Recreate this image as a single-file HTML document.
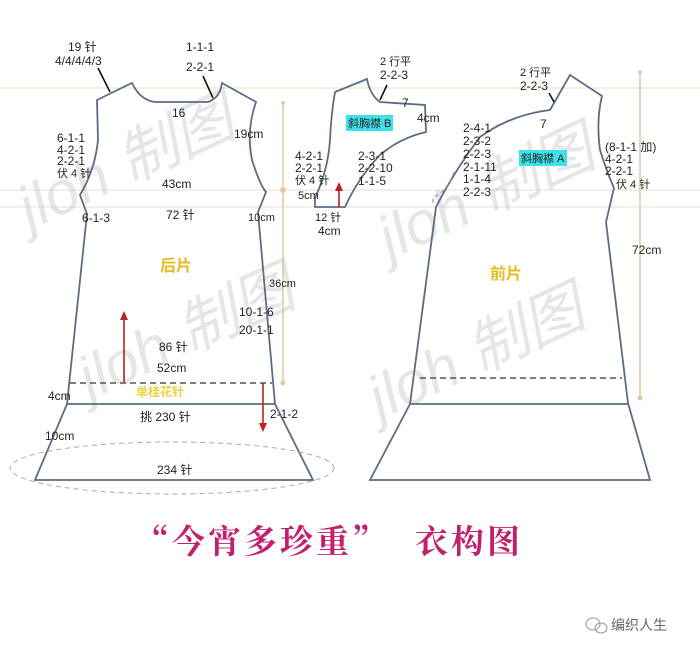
<!DOCTYPE html>
<html><head><meta charset="utf-8"><style>
html,body{margin:0;padding:0;background:#fff;}
svg{display:block;}
text{font-family:"Liberation Sans","Noto Sans CJK SC",sans-serif;font-size:12px;fill:#222;}
</style></head><body>
<svg width="700" height="655" viewBox="0 0 700 655" xmlns="http://www.w3.org/2000/svg">
<g stroke="#eadfc8" stroke-width="1">
<line x1="0" y1="88" x2="700" y2="88"/>
<line x1="0" y1="190" x2="700" y2="190"/>
<line x1="0" y1="207" x2="700" y2="207"/>
</g>
<g stroke="#e2c9a0" stroke-width="1.5">
<line x1="283" y1="103" x2="283" y2="383"/>
<line x1="640" y1="72" x2="640" y2="398"/>
</g>
<g fill="#e2c9a0"><circle cx="283" cy="103" r="2"/><circle cx="283" cy="190" r="3"/><circle cx="283" cy="383" r="2.5"/><circle cx="640" cy="72" r="2"/><circle cx="640" cy="398" r="2.5"/></g>

<g opacity="0.35" style="font-family:'Liberation Serif','Noto Serif CJK SC',serif;font-style:italic">
<text x="30" y="230" transform="rotate(-25 30 230)" style="font-size:60px;fill:#b8b8b8">jloh 制图</text>
<text x="90" y="400" transform="rotate(-25 90 400)" style="font-size:60px;fill:#b8b8b8">jloh 制图</text>
<text x="390" y="260" transform="rotate(-25 390 260)" style="font-size:60px;fill:#b8b8b8">jloh 制图</text>
<text x="380" y="420" transform="rotate(-25 380 420)" style="font-size:60px;fill:#b8b8b8">jloh 制图</text>
</g>

<g fill="none" stroke="#5b6c85" stroke-width="1.8">
<path d="M97,100 L132,83 Q140,100 155,102 L208,102 Q220,98 222,83 L256,102 Q246,130 252,160 Q260,185 266,192 L258,212 L275,404 L313,480 L35,480 L67,404 L87,214 L80,195 Q95,170 98,140 Z"/>
<line x1="67" y1="404" x2="275" y2="404"/>
</g>
<line x1="70" y1="383" x2="272" y2="383" stroke="#555" stroke-width="1.5" stroke-dasharray="6,4"/>
<ellipse cx="172" cy="468" rx="162" ry="26" fill="none" stroke="#aaa" stroke-width="1" stroke-dasharray="5,4"/>

<g fill="none" stroke="#5b6c85" stroke-width="1.8">
<path d="M570,75 L602,96 Q596,120 600,150 Q608,175 614,188 L606,222 L628,403 L650,480 L370,480 L410,404 L436,207 Q455,170 480,137 Q510,115 550,110 Z"/>
<line x1="410" y1="404" x2="628" y2="404"/>
</g>
<path d="M454,172 Q448,190 433,198 L433,206" fill="none" stroke="#8899aa" stroke-width="1.2" stroke-dasharray="4,3"/>
<line x1="420" y1="378" x2="622" y2="378" stroke="#555" stroke-width="1.5" stroke-dasharray="6,4"/>

<path d="M335,92 L367,79 Q370,95 380,102 L425,105 L426,132 Q400,138 380,155 Q358,178 345,207 L315,207 L315,198 Q328,170 330,140 Q331,115 335,92 Z" fill="none" stroke="#5b6c85" stroke-width="1.8"/>

<g stroke="#111" stroke-width="1.6">
<line x1="98" y1="68" x2="110" y2="92"/>
<line x1="203" y1="76" x2="213" y2="98"/>
<line x1="387" y1="85" x2="380" y2="100"/>
<line x1="549" y1="93" x2="554" y2="102"/>
</g>
<g stroke="#b22" stroke-width="1.6" fill="#b22">
<line x1="124" y1="382" x2="124" y2="318"/><path d="M120,320 L124,311 L128,320 Z" stroke="none"/>
<line x1="263" y1="383" x2="263" y2="424"/><path d="M259,423 L263,432 L267,423 Z" stroke="none"/>
<line x1="339" y1="207" x2="339" y2="189"/><path d="M335,191 L339,182 L343,191 Z" stroke="none"/>
</g>

<rect x="346" y="115" width="47" height="16" fill="#3fe0e8"/>
<text x="348" y="127" style="font-size:11px">斜胸襟 B</text>
<rect x="519" y="150" width="48" height="16" fill="#3fe0e8"/>
<text x="521" y="162" style="font-size:11px">斜胸襟 A</text>

<g>
<text x="68" y="51">19 针</text>
<text x="55" y="65">4/4/4/4/3</text>
<text x="186" y="51">1-1-1</text>
<text x="186" y="71">2-2-1</text>
<text x="172" y="117">16</text>
<text x="234" y="138">19cm</text>
<text x="57" y="142">6-1-1</text>
<text x="57" y="154">4-2-1</text>
<text x="57" y="165">2-2-1</text>
<text x="57" y="177" style="font-size:11px">伏 4 针</text>
<text x="162" y="188">43cm</text>
<text x="82" y="222">6-1-3</text>
<text x="166" y="219">72 针</text>
<text x="248" y="221" style="font-size:11px">10cm</text>
<text x="160" y="271" style="font-size:16px;font-weight:bold;fill:#e8b923">后片</text>
<text x="269" y="287" style="font-size:11px">36cm</text>
<text x="239" y="316">10-1-6</text>
<text x="239" y="334">20-1-1</text>
<text x="159" y="351">86 针</text>
<text x="157" y="372">52cm</text>
<text x="136" y="396" style="font-size:12px;font-weight:bold;fill:#e8d43a">单桂花针</text>
<text x="48" y="400">4cm</text>
<text x="140" y="421">挑 230 针</text>
<text x="270" y="418">2-1-2</text>
<text x="45" y="440">10cm</text>
<text x="157" y="474">234 针</text>
</g>
<g>
<text x="380" y="65" style="font-size:11px">2 行平</text>
<text x="380" y="79">2-2-3</text>
<text x="402" y="107">7</text>
<text x="417" y="122">4cm</text>
<text x="295" y="160">4-2-1</text>
<text x="295" y="172">2-2-1</text>
<text x="295" y="184" style="font-size:11px">伏 4 针</text>
<text x="298" y="199" style="font-size:11px">5cm</text>
<text x="358" y="160">2-3-1</text>
<text x="358" y="172">2-2-10</text>
<text x="358" y="185">1-1-5</text>
<text x="315" y="221" style="font-size:11px">12 针</text>
<text x="318" y="235">4cm</text>
</g>
<g>
<text x="520" y="76" style="font-size:11px">2 行平</text>
<text x="520" y="90">2-2-3</text>
<text x="540" y="128">7</text>
<text x="463" y="132">2-4-1</text>
<text x="463" y="145">2-3-2</text>
<text x="463" y="158">2-2-3</text>
<text x="463" y="171">2-1-11</text>
<text x="463" y="183">1-1-4</text>
<text x="463" y="196">2-2-3</text>
<text x="605" y="151">(8-1-1 加)</text>
<text x="605" y="163">4-2-1</text>
<text x="605" y="175">2-2-1</text>
<text x="616" y="188" style="font-size:11px">伏 4 针</text>
<text x="632" y="254">72cm</text>
<text x="490" y="279" style="font-size:16px;font-weight:bold;fill:#e8b923">前片</text>
</g>
<text x="136" y="553" style="font-family:'Noto Serif CJK SC',serif;font-size:33px;font-weight:bold;fill:#c2206f;letter-spacing:3px">“今宵多珍重”</text>
<text x="415" y="553" style="font-family:'Noto Serif CJK SC',serif;font-size:33px;font-weight:bold;fill:#c2206f;letter-spacing:3px">衣构图</text>
<g fill="none" stroke="#999" stroke-width="1"><ellipse cx="593" cy="624" rx="7" ry="6"/><ellipse cx="601" cy="628" rx="6" ry="5"/></g>
<text x="611" y="630" style="font-size:14px;fill:#666">编织人生</text>
</svg>
</body></html>
